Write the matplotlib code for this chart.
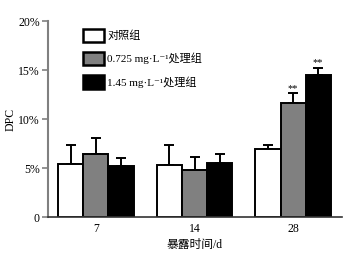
import matplotlib
matplotlib.use("Agg")
import matplotlib.pyplot as plt
import numpy as np

plt.rcParams["font.family"] = ["Liberation Serif", "Noto Sans CJK SC", "DejaVu Serif"]

days = ["7", "14", "28"]
labels = ["对照组", "0.725 mg·L⁻¹处理组", "1.45 mg·L⁻¹处理组"]
control = [5.45, 5.3, 6.95]
control_err = [1.9, 2.05, 0.45]
low_dose = [6.45, 4.85, 11.6]
low_dose_err = [1.6, 1.25, 1.05]
high_dose = [5.25, 5.55, 14.45]
high_dose_err = [0.8, 0.95, 0.8]
stars = ["", "", "**"]

colors = ["white", "#808080", "black"]

fig = plt.figure(figsize=(3.49, 2.54), dpi=100)
ax = fig.add_axes([48 / 349, 36.7 / 254, 294 / 349, 196.3 / 254])

x = np.arange(len(days))
width = 0.254
series = [(control, control_err), (low_dose, low_dose_err), (high_dose, high_dose_err)]
for i, (vals, errs) in enumerate(series):
    pos = x + (i - 1) * width
    ax.bar(pos, vals, width, color=colors[i], edgecolor="black", linewidth=1.4,
           label=labels[i], zorder=2)
    ax.errorbar(pos, vals, yerr=[np.zeros(len(vals)), errs], fmt="none",
                ecolor="black", elinewidth=1.4, capsize=3.5, capthick=1.4, zorder=1)
    if i > 0:
        for p, v, e, s in zip(pos, vals, errs, stars):
            if s:
                ax.text(p, v + e + 0.05, s, ha="center", va="bottom", fontsize=7.5)

ax.set_xlim(-0.487, 2.497)
ax.set_ylim(0, 20)
ax.set_xticks(x)
ax.set_xticklabels(days, fontsize=8.5)
ax.set_yticks([0, 5, 10, 15, 20])
ax.set_yticklabels(["0", "5%", "10%", "15%", "20%"], fontsize=8.5)
ax.tick_params(axis="x", length=0, pad=4)
ax.tick_params(axis="y", length=4, width=1.2, color="#808080", pad=2)
ax.spines["top"].set_visible(False)
ax.spines["right"].set_visible(False)
ax.spines["left"].set_color("#808080")
ax.spines["left"].set_linewidth(1.5)
ax.spines["bottom"].set_color("#333333")
ax.spines["bottom"].set_linewidth(1.2)

ax.set_ylabel("DPC", fontsize=8.5, labelpad=1)
ax.set_xlabel("暴露时间/d", fontsize=8.5, labelpad=3)

leg = ax.legend(loc="upper left", bbox_to_anchor=(0.095, 0.995), frameon=False, fontsize=8,
                handlelength=1.9, handleheight=1.45, handletextpad=0.3, labelspacing=0.92,
                borderaxespad=0.2)
for h in leg.legend_handles:
    h.set_linewidth(1.8)

fig.savefig("out.png", dpi=100)
